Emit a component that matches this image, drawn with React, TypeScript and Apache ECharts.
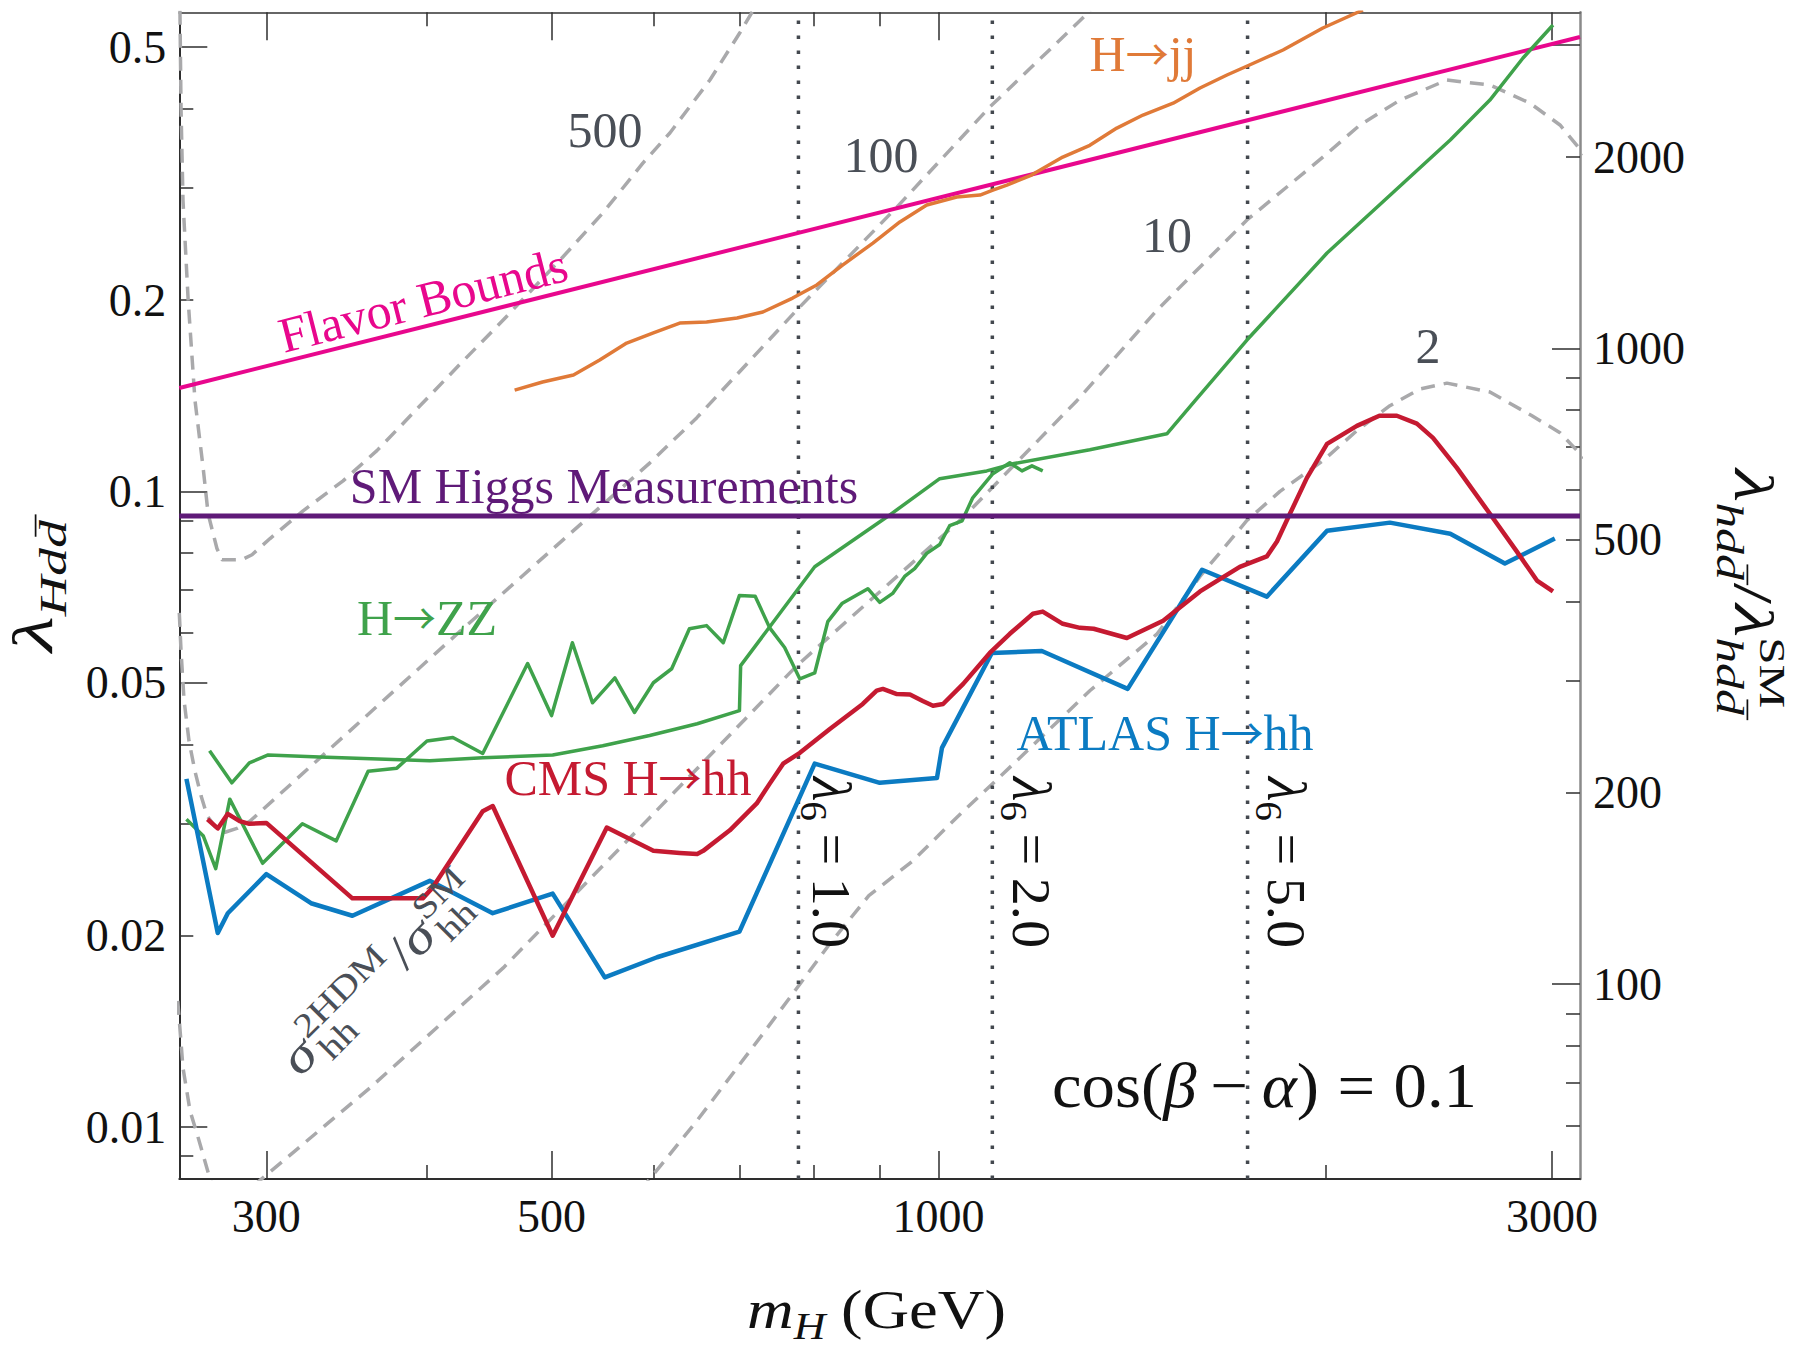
import React, { useEffect, useRef } from 'react';
import * as echarts from 'echarts';

const FONT = '"Liberation Serif", "Times New Roman", serif';
const ARROW_FONT = '"Noto Sans CJK SC", "DejaVu Sans", sans-serif';

// ---------- axes ----------
const X_MIN = 256.7;
const X_MAX = 3154;
const Y_MIN = 0.008287;
const Y_MAX = 0.567;
const RATIO_SCALE = 5960; // right axis value = left value * RATIO_SCALE

const X_LABELS = [300, 500, 1000, 3000];
const X_MAJOR_TICKS = [300, 500, 1000, 3000];
const X_MINOR_TICKS = [400, 600, 700, 800, 900, 2000];
const Y_LABELS = [0.5, 0.2, 0.1, 0.05, 0.02, 0.01];
const Y_MAJOR_TICKS = [0.5, 0.1, 0.05, 0.01];
const Y_MINOR_TICKS = [0.4, 0.3, 0.2, 0.09, 0.08, 0.07, 0.06, 0.04, 0.03, 0.02, 0.009];
const R_LABELS = [2000, 1000, 500, 200, 100];
const R_MAJOR_TICKS = [3000, 1000, 100];
const R_MINOR_TICKS = [2000, 900, 800, 700, 600, 500, 400, 300, 200, 90, 80, 70, 60];

// ---------- data: [m_H (GeV), lambda_Hdd] ----------
type Pt = [number, number];

const FLAVOR: Pt[] = [[256.7, 0.1454], [3154, 0.5185]];
const SM_HIGGS = 0.0915;

const ATLAS: Pt[] = [
  [260, 0.0353], [275, 0.0202], [280, 0.0217], [300, 0.025], [325, 0.0225], [350, 0.0215],
  [402, 0.0244], [450, 0.0217], [501, 0.0233], [550, 0.0172], [604, 0.0185], [700, 0.0203],
  [801, 0.0373], [900, 0.0348], [997, 0.0354], [1006, 0.0395], [1100, 0.0557], [1203, 0.0561],
  [1403, 0.0489], [1603, 0.0753], [1800, 0.0683], [2005, 0.0867], [2244, 0.0893], [2500, 0.0858],
  [2757, 0.077], [3015, 0.0843],
];

const CMS: Pt[] = [
  [270, 0.0305], [275, 0.0295], [280, 0.0311], [286, 0.0303], [291, 0.030], [300, 0.0301],
  [350, 0.0229], [397, 0.0229], [404, 0.0238], [442, 0.0314], [450, 0.032], [501, 0.020],
  [552, 0.0296], [600, 0.0272], [629, 0.027], [649, 0.0269], [656, 0.0272], [688, 0.0293],
  [722, 0.0323], [739, 0.0347], [757, 0.0373], [780, 0.0388], [823, 0.0423], [873, 0.0463],
  [895, 0.0486], [905, 0.0489], [928, 0.048], [950, 0.0479], [972, 0.0468], [990, 0.046],
  [1008, 0.0463], [1045, 0.0498], [1096, 0.0557], [1136, 0.0597], [1184, 0.0642], [1205, 0.0647],
  [1249, 0.0619], [1288, 0.061], [1320, 0.0608], [1401, 0.0588], [1495, 0.0626], [1597, 0.0696],
  [1715, 0.0761], [1800, 0.079], [1833, 0.0834], [1876, 0.0922], [1934, 0.105], [2005, 0.1188],
  [2115, 0.1268], [2202, 0.1315], [2272, 0.1315], [2355, 0.1278], [2424, 0.1214], [2530, 0.1089],
  [2684, 0.0922], [2817, 0.0804], [2920, 0.0724], [3005, 0.0696],
];

const HJJ: Pt[] = [
  [468, 0.1443], [492, 0.1486], [520, 0.1524], [545, 0.1609], [572, 0.1711], [600, 0.1775],
  [629, 0.184], [660, 0.1847], [697, 0.1874], [730, 0.1915], [770, 0.2014], [804, 0.2112],
  [842, 0.227], [889, 0.2458], [933, 0.2653], [979, 0.2821], [1033, 0.2904], [1077, 0.2925],
  [1102, 0.2978], [1130, 0.3033], [1181, 0.3145], [1249, 0.3356], [1311, 0.3502], [1376, 0.3728],
  [1442, 0.3908], [1522, 0.408], [1597, 0.431], [1676, 0.4518], [1745, 0.4685], [1853, 0.4946],
  [1990, 0.5357], [2138, 0.5717],
];

const HZZ_A: Pt[] = [
  [271, 0.0391], [282, 0.0348], [291, 0.0374], [301, 0.0385], [330, 0.0382], [402, 0.0377],
  [442, 0.0381], [501, 0.0385], [548, 0.0398], [596, 0.0413], [649, 0.0431], [700, 0.0452],
  [701.5, 0.0532], [801, 0.0761], [912, 0.0912], [1002, 0.1047], [1090, 0.1077], [1142, 0.1105],
  [1311, 0.1163], [1505, 0.1232], [1583, 0.1389], [1737, 0.173], [2005, 0.2371], [2500, 0.357],
  [2684, 0.4126], [2848, 0.4805], [3005, 0.5415],
];

const HZZ_B: Pt[] = [
  [260, 0.0305], [268, 0.0287], [274, 0.0255], [281, 0.0328], [298, 0.026], [320, 0.030],
  [340, 0.0282], [360, 0.0363], [379, 0.0367], [400, 0.0405], [419, 0.041], [442, 0.0387],
  [479, 0.0536], [500, 0.0444], [519, 0.0578], [538, 0.0465], [560, 0.0509], [580, 0.0449],
  [600, 0.050], [620, 0.0526], [640, 0.0608], [660, 0.0615], [680, 0.0578], [700, 0.0686],
  [720, 0.0684], [739, 0.061], [759, 0.0568], [780, 0.0507], [801, 0.0518], [820, 0.0624],
  [841, 0.0666], [881, 0.0703], [900, 0.0669], [921, 0.0691], [941, 0.0735], [958, 0.0756],
  [979, 0.0799], [1002, 0.0825], [1020, 0.0883], [1043, 0.0899], [1063, 0.0977], [1102, 0.1066],
  [1136, 0.1109], [1161, 0.1077], [1182, 0.1097], [1205, 0.1077],
];

// sigma_hh^2HDM / sigma_hh^SM contours
const CONTOUR_500: Pt[] = [
  [257, 0.57], [257.5, 0.399], [258.4, 0.287], [260.8, 0.2], [264, 0.1392], [267.9, 0.1089],
  [270.3, 0.0922], [274.6, 0.0813], [277.1, 0.0781], [287.2, 0.0781], [292.4, 0.0795], [302, 0.0843],
  [320.4, 0.0932], [344.2, 0.1039], [365.7, 0.1159], [422.3, 0.1569], [458.5, 0.186], [510.2, 0.2337],
  [548, 0.274], [588.8, 0.3284], [618, 0.3662], [663.9, 0.4437], [700.3, 0.526], [717, 0.57],
];
const CONTOUR_100: Pt[] = [
  [256.7, 0.0644], [257.5, 0.0561], [258.9, 0.0469], [261.2, 0.0405], [264, 0.0363], [266.9, 0.0332],
  [269.8, 0.0309], [273.6, 0.0297], [278.6, 0.0291], [284.6, 0.0295], [291.4, 0.0303], [424.6, 0.0603],
  [596.3, 0.1109], [648.6, 0.1306], [775.8, 0.1929], [928, 0.28], [1096, 0.4023], [1312, 0.57],
];
const CONTOUR_10: Pt[] = [
  [284, 0.00766], [361.2, 0.01153], [458.5, 0.0178], [596.3, 0.0307], [775.8, 0.0532], [1044.5, 0.0909],
  [1281, 0.1389], [1479, 0.1929], [1737, 0.2672], [1990, 0.3356], [2127, 0.377], [2285, 0.4126],
  [2485, 0.4437], [2684, 0.4357], [2884, 0.408], [3043, 0.377], [3182, 0.338],
];
const CONTOUR_10_LEFT: Pt[] = [
  [256, 0.0158], [258.4, 0.0124], [261.7, 0.0106], [265, 0.00976], [272.2, 0.00808],
];
const CONTOUR_2: Pt[] = [
  [586, 0.00794], [648.6, 0.01023], [730, 0.01402], [823, 0.01943], [882.5, 0.02312], [955, 0.02624],
  [1033, 0.0307], [1116, 0.03556], [1311, 0.04857], [1479, 0.0597], [1597, 0.0735], [1737, 0.09],
  [1843, 0.1], [1990, 0.1117], [2115, 0.1246], [2244, 0.1364], [2368, 0.1449], [2485, 0.148],
  [2684, 0.1433], [2894, 0.1315], [3043, 0.1237], [3182, 0.1125],
];

// lambda_6 vertical lines (m_H values)
const LAMBDA6_MASS = [778, 1101, 1739];
const LAMBDA6_TEXT = ['1.0', '2.0', '5.0'];

// ---------- colors ----------
const C_FLAVOR = '#e8078d';
const C_SM = '#5f1a78';
const C_JJ = '#e07a38';
const C_ZZ = '#3fa24b';
const C_CMS = '#c51a31';
const C_ATLAS = '#0b7bc2';
const C_CONTOUR = '#a9a9ab';
const C_DOT = '#43484e';
const C_TEXTGRAY = '#4a4f57';

const L = Math.log10;
const toLog = (pts: Pt[]) => pts.map(([m, l]) => [L(m), L(l)]);

function lineSeries(name: string, pts: Pt[], color: string, width: number, type: any, z: number) {
  return {
    name, type: 'line', data: toLog(pts), showSymbol: false, symbol: 'none', clip: true, z,
    silent: true, animation: false,
    lineStyle: { color, width, type, cap: 'butt', join: 'round' },
    emphasis: { disabled: true },
  };
}

// ---------- text helpers ----------
type Piece = { t: string; fs: number; it?: boolean; dy?: number; adv?: boolean; gap?: number; sync?: boolean; bar?: boolean };
let measureCtx: CanvasRenderingContext2D | null = null;
function textWidth(t: string, fs: number, it: boolean) {
  if (!measureCtx) measureCtx = document.createElement('canvas').getContext('2d');
  if (!measureCtx) return t.length * fs * 0.5;
  measureCtx.font = `${it ? 'italic ' : ''}${fs}px ${FONT}`;
  return measureCtx.measureText(t).width;
}

function mathLabel(pieces: Piece[], o: { x: number; y: number; rot?: number; align?: 'left' | 'center'; color: string; targetW?: number; sy?: number }) {
  let cur = 0;
  let supEnd = 0;
  const placed: { x: number; w: number; p: Piece }[] = [];
  for (const p of pieces) {
    if (p.sync) cur = Math.max(cur, supEnd);
    cur += p.gap || 0;
    const w = textWidth(p.t, p.fs, !!p.it);
    placed.push({ x: cur, w, p });
    if (p.adv === false) supEnd = Math.max(supEnd, cur + w);
    else cur += w;
  }
  const W = Math.max(cur, supEnd);
  const off = o.align === 'center' ? -W / 2 : 0;
  const children: any[] = [];
  for (const { x, w, p } of placed) {
    const dy = p.dy || 0;
    children.push({
      type: 'text', x: x + off, y: dy - 0.3375 * p.fs, silent: true, z: 100,
      style: {
        text: p.t, fill: o.color, fontSize: p.fs, fontFamily: FONT, fontStyle: p.it ? 'italic' : 'normal',
        align: 'left', verticalAlign: 'middle', lineHeight: Math.round(p.fs * 0.8),
      },
    });
    if (p.bar) {
      children.push({
        type: 'line', silent: true, z: 100,
        shape: { x1: x + off + 0.2 * p.fs, y1: dy - 0.8 * p.fs, x2: x + off + w + 0.1 * p.fs, y2: dy - 0.8 * p.fs },
        style: { stroke: o.color, lineWidth: Math.max(1.2, p.fs * 0.045) },
      });
    }
  }
  return {
    type: 'group', x: o.x, y: o.y, rotation: o.rot || 0,
    scaleX: o.targetW ? o.targetW / W : 1, scaleY: o.sy || 1, silent: true, z: 100, children,
  };
}

function plainText(text: string, x: number, y: number, color: string, fs = 50, rot = 0) {
  return {
    type: 'text', x, y, rotation: rot, silent: true, z: 100,
    style: { text, fill: color, fontSize: fs, fontFamily: FONT, align: 'center', verticalAlign: 'middle' },
  };
}

// label of the form "<before>→<after>" with a long thin arrow
function arrowText(before: string, after: string, x: number, y: number, color: string, fs = 50) {
  return {
    type: 'text', x, y, silent: true, z: 100,
    style: {
      text: `{n|${before}}{a|\u2192}{n|${after}}`,
      align: 'center', verticalAlign: 'middle', fill: color,
      rich: {
        n: { fontFamily: FONT, fontSize: fs, fill: color },
        a: { fontFamily: ARROW_FONT, fontSize: fs * 0.86, fill: color, padding: [0, 0, 4, 0] },
      },
    },
  };
}

function buildOption() {
  const xmin = L(X_MIN), xmax = L(X_MAX), ymin = L(Y_MIN), ymax = L(Y_MAX);
  const rmin = L(Y_MIN * RATIO_SCALE), rmax = L(Y_MAX * RATIO_SCALE);
  const dark = '#2e2e2e';
  const tickStyle = { color: dark, width: 1.5 };
  const labelStyle = { fontFamily: FONT, fontSize: 46, color: '#111' };
  const fmtX = (v: number) => String(Math.round(Math.pow(10, v)));
  const fmtY = (v: number) => String(parseFloat(Math.pow(10, v).toPrecision(2)));
  const fmtR = (v: number) => String(Math.round(Math.pow(10, v)));
  const base = (min: number, max: number) => ({ type: 'value', min, max, splitLine: { show: false }, axisPointer: { show: false } });

  const xAxis = [
    { ...base(xmin, xmax), position: 'bottom', axisLine: { show: true, onZero: false, lineStyle: { color: dark, width: 2 } },
      axisTick: { show: true, inside: true, length: 28, customValues: X_MAJOR_TICKS.map(L), lineStyle: tickStyle },
      axisLabel: { show: true, customValues: X_LABELS.map(L), formatter: fmtX, margin: 14, ...labelStyle } },
    { ...base(xmin, xmax), position: 'bottom', axisLine: { show: false, onZero: false },
      axisTick: { show: true, inside: true, length: 14, customValues: X_MINOR_TICKS.map(L), lineStyle: tickStyle },
      axisLabel: { show: false } },
    { ...base(xmin, xmax), position: 'top', axisLine: { show: true, onZero: false, lineStyle: { color: '#666', width: 2 } },
      axisTick: { show: true, inside: true, length: 28, customValues: X_MAJOR_TICKS.map(L), lineStyle: tickStyle },
      axisLabel: { show: false } },
    { ...base(xmin, xmax), position: 'top', axisLine: { show: false, onZero: false },
      axisTick: { show: true, inside: true, length: 14, customValues: X_MINOR_TICKS.map(L), lineStyle: tickStyle },
      axisLabel: { show: false } },
  ];
  const yAxis = [
    { ...base(ymin, ymax), position: 'left', axisLine: { show: true, onZero: false, lineStyle: { color: dark, width: 2 } },
      axisTick: { show: true, inside: true, length: 28, customValues: Y_MAJOR_TICKS.map(L), lineStyle: tickStyle },
      axisLabel: { show: true, customValues: Y_LABELS.map(L), formatter: fmtY, margin: 13, ...labelStyle } },
    { ...base(ymin, ymax), position: 'left', axisLine: { show: false, onZero: false },
      axisTick: { show: true, inside: true, length: 14, customValues: Y_MINOR_TICKS.map(L), lineStyle: tickStyle },
      axisLabel: { show: false } },
    { ...base(rmin, rmax), position: 'right', axisLine: { show: true, onZero: false, lineStyle: { color: '#8a8a8a', width: 2.5 } },
      axisTick: { show: true, inside: true, length: 28, customValues: R_MAJOR_TICKS.map(L), lineStyle: tickStyle },
      axisLabel: { show: true, customValues: R_LABELS.map(L), formatter: fmtR, margin: 13, ...labelStyle } },
    { ...base(rmin, rmax), position: 'right', axisLine: { show: false, onZero: false },
      axisTick: { show: true, inside: true, length: 14, customValues: R_MINOR_TICKS.map(L), lineStyle: tickStyle },
      axisLabel: { show: false } },
  ];

  const dash = [14, 9];
  const series: any[] = [
    lineSeries('contour500', CONTOUR_500, C_CONTOUR, 3.5, dash, 2),
    lineSeries('contour100', CONTOUR_100, C_CONTOUR, 3.5, dash, 2),
    lineSeries('contour10', CONTOUR_10, C_CONTOUR, 3.5, dash, 2),
    lineSeries('contour10left', CONTOUR_10_LEFT, C_CONTOUR, 3.5, dash, 2),
    lineSeries('contour2', CONTOUR_2, C_CONTOUR, 3.5, dash, 2),
    ...LAMBDA6_MASS.map((m, i) => lineSeries('lambda6_' + i, [[m, Y_MIN], [m, Y_MAX]], C_DOT, 3.5, [3.5, 11.5], 3)),
    lineSeries('flavor', FLAVOR, C_FLAVOR, 4, 'solid', 4),
    lineSeries('Hjj', HJJ, C_JJ, 3.5, 'solid', 5),
    lineSeries('HZZ_a', HZZ_A, C_ZZ, 3.5, 'solid', 6),
    lineSeries('HZZ_b', HZZ_B, C_ZZ, 3.5, 'solid', 6),
    lineSeries('ATLAS', ATLAS, C_ATLAS, 4.5, 'solid', 7),
    lineSeries('CMS', CMS, C_CMS, 4.5, 'solid', 8),
    lineSeries('SM', [[X_MIN, SM_HIGGS], [X_MAX, SM_HIGGS]], C_SM, 5, 'solid', 9),
  ];

  const graphic: any[] = [
    plainText('500', 605, 130, C_TEXTGRAY),
    plainText('100', 881, 155, C_TEXTGRAY),
    plainText('10', 1167, 235, C_TEXTGRAY),
    plainText('2', 1428, 346, C_TEXTGRAY),
    plainText('Flavor Bounds', 423, 300, C_FLAVOR, 50, 0.25),
    plainText('SM Higgs Measurements', 604, 486, C_SM),
    arrowText('H', 'jj', 1143, 54, C_JJ),
    arrowText('H', 'ZZ', 427, 618, C_ZZ),
    arrowText('CMS H', 'hh', 628, 778, C_CMS),
    arrowText('ATLAS H', 'hh', 1165, 733, C_ATLAS),
    // sigma ratio label
    mathLabel([
      { t: '\u03c3', fs: 50, it: true },
      { t: '2HDM', fs: 34, dy: -22, adv: false, gap: 2 },
      { t: 'hh', fs: 34, dy: 11, gap: 2 },
      { t: '/', fs: 50, sync: true, gap: 3 },
      { t: '\u03c3', fs: 50, it: true },
      { t: 'SM', fs: 34, dy: -22, adv: false, gap: 2 },
      { t: 'hh', fs: 34, dy: 11, gap: 2 },
    ], { x: 300, y: 1078, rot: Math.PI / 4, color: C_TEXTGRAY, targetW: 258 }),
    // lambda_6 labels
    ...LAMBDA6_TEXT.map((txt, i) => mathLabel([
      { t: '\u03bb', fs: 54, it: true },
      { t: '6', fs: 38, dy: 12 },
      { t: '=', fs: 54, gap: 12 },
      { t: txt, fs: 54, gap: 12 },
    ], { x: [813, 1013, 1268][i], y: 777, rot: -Math.PI / 2, color: '#111', targetW: 171 })),
    // cos(beta - alpha) = 0.1
    mathLabel([
      { t: 'cos(', fs: 58 },
      { t: '\u03b2', fs: 58, it: true },
      { t: '\u2212', fs: 58, gap: 12 },
      { t: '\u03b1', fs: 58, it: true, gap: 12 },
      { t: ')', fs: 58 },
      { t: '=', fs: 58, gap: 16 },
      { t: '0.1', fs: 58, gap: 16 },
    ], { x: 1052, y: 1107, color: '#111', targetW: 425, sy: 1.1 }),
    // x axis title
    mathLabel([
      { t: 'm', fs: 50, it: true },
      { t: 'H', fs: 34, it: true, dy: 10 },
      { t: '(GeV)', fs: 50, gap: 12 },
    ], { x: 747, y: 1328, color: '#111', targetW: 259, sy: 1.1 }),
    // left axis title
    mathLabel([
      { t: '\u03bb', fs: 56, it: true },
      { t: 'Hd', fs: 38, it: true, dy: 14 },
      { t: 'd', fs: 38, it: true, dy: 14, bar: true },
    ], { x: 52, y: 652, rot: Math.PI / 2, color: '#111', targetW: 132 }),
    // right axis title
    mathLabel([
      { t: '\u03bb', fs: 56, it: true },
      { t: 'hd', fs: 38, it: true, dy: 18 },
      { t: 'd', fs: 38, it: true, dy: 18, bar: true },
      { t: '/', fs: 56, gap: 2 },
      { t: '\u03bb', fs: 56, it: true },
      { t: 'SM', fs: 36, dy: -25, adv: false },
      { t: 'hd', fs: 38, it: true, dy: 18 },
      { t: 'd', fs: 38, it: true, dy: 18, bar: true },
    ], { x: 1735, y: 469, rot: -Math.PI / 2, color: '#111', targetW: 246 }),
  ];

  return {
    animation: false,
    backgroundColor: '#ffffff',
    grid: { left: 179.3, top: 12.3, width: 1400.7, height: 1166.7, containLabel: false },
    tooltip: { show: false },
    xAxis, yAxis, series, graphic,
  };
}

export default function App() {
  const ref = useRef<HTMLDivElement>(null);
  useEffect(() => {
    if (!ref.current) return;
    const chart = echarts.init(ref.current, null, { renderer: 'svg', width: 1793, height: 1347 });
    chart.setOption(buildOption() as any);
    return () => chart.dispose();
  }, []);
  return (
    <div
      ref={ref}
      style={{ position: 'absolute', left: 0, top: 0, width: 1793, height: 1347, background: '#fff' }}
    />
  );
}
